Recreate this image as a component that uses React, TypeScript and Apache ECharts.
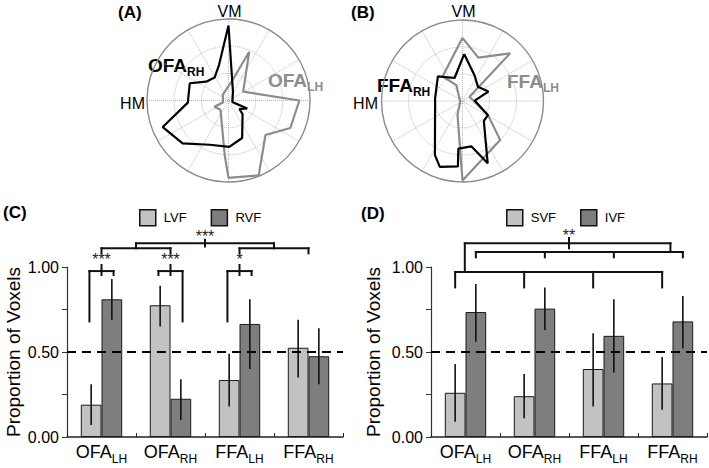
import React, { useEffect, useRef } from 'react';
import * as echarts from 'echarts';

const FONT = "'Liberation Sans', Arial, Helvetica, sans-serif";

// ---------- Panel A / B: polar profiles, [radius (0..1), angle in degrees, 0 = right, counter-clockwise]
const ofaRH = [
  [0.92, 90], [0.45, 105], [0.33, 121], [0.36, 140], [0.52, 156], [0.5, 183], [0.87, 202],
  [0.77, 223], [0.59, 247], [0.57, 271], [0.49, 290], [0.24, 316], [0.17, 322], [0.25, 337],
  [0.05, 340], [0.12, 63], [0.92, 90],
];
const ofaLH = [
  [0.65, 67], [0.21, 31], [0.87, 0], [0.83, 336], [0.62, 317], [0.99, 292], [0.95, 270],
  [0.67, 266], [0.15, 229], [0.19, 204], [0.07, 198], [0.1, 135], [0.23, 81], [0.65, 67],
];
const ffaLH = [
  [0.78, 90], [0.57, 70], [0.83, 45], [0.1, 31], [0.36, 331], [0.67, 314], [0.98, 270],
  [0.18, 250], [0.03, 200], [0.21, 111], [0.39, 129], [0.78, 90],
];
const ffaRH = [
  [0.58, 88], [0.35, 65], [0.26, 43], [0.34, 20], [0.15, 2], [0.36, 331], [0.36, 317],
  [0.83, 292], [0.57, 281], [0.59, 265], [0.81, 266], [0.86, 251], [0.75, 243], [0.34, 174],
  [0.43, 135], [0.3, 109], [0.58, 88],
];

// ---------- Panel C / D: bars
const categories = ['OFA_LH', 'OFA_RH', 'FFA_LH', 'FFA_RH'];
const lvf = [0.19, 0.775, 0.335, 0.525];
const rvf = [0.81, 0.225, 0.665, 0.475];
const lvfErr = [[0.07, 0.31], [0.65, 0.89], [0.18, 0.49], [0.35, 0.69]];
const rvfErr = [[0.69, 0.93], [0.1, 0.34], [0.4, 0.81], [0.31, 0.64]];

const svf = [0.26, 0.24, 0.4, 0.315];
const ivf = [0.735, 0.755, 0.595, 0.68];
const svfErr = [[0.09, 0.43], [0.11, 0.37], [0.18, 0.61], [0.16, 0.47]];
const ivfErr = [[0.56, 0.9], [0.63, 0.88], [0.38, 0.81], [0.52, 0.83]];

const yTickLabels = ['0.00', '0.50', '1.00'];

// significance brackets: y = horizontal bar value, legs = [category position, leg end value]
const bracketsC = [
  { y: 0.976, legs: [[-0.175, 0.68], [0.175, 0.953]], tick: [0, 0.953, 1.012] },
  { y: 0.976, legs: [[0.825, 0.953], [1.175, 0.68]], tick: [1, 0.953, 1.012] },
  { y: 0.976, legs: [[1.825, 0.68], [2.175, 0.953]], tick: [2, 0.953, 1.012] },
  { y: 1.11, legs: [[0, 1.08], [1, 1.08]] },
  { y: 1.11, legs: [[2, 1.08], [3, 1.08]] },
  { y: 1.139, legs: [[0.5, 1.11], [2.5, 1.11]], tick: [1.5, 1.12, 1.16] },
];
const starsC = [
  { x: 0, y: 1.045, text: '***' },
  { x: 1, y: 1.045, text: '***' },
  { x: 2, y: 1.045, text: '*' },
  { x: 1.5, y: 1.18, text: '***' },
];
const bracketsD = [
  { y: 0.971, legs: [[-0.15, 0.88], [0.85, 0.88], [1.85, 0.88], [2.85, 0.88]] },
  { y: 1.088, legs: [[0.15, 1.057], [1.15, 1.057], [2.15, 1.057], [3.15, 1.057]] },
  { y: 1.139, legs: [[-0.01, 0.971], [2.97, 1.088]], tick: [1.5, 1.11, 1.17] },
];
const starsD = [{ x: 1.5, y: 1.185, text: '**' }];

const LIGHT = '#c2c2c2';
const DARK = '#7e7e7e';
const GRAYLINE = '#8c8c8c';

function errRender(errs: number[][], off: number) {
  return (params: any, api: any) => {
    const i = api.value(0);
    const bw = api.size([1, 0])[0];
    const lo = api.coord([i, errs[i][0]]);
    const hi = api.coord([i, errs[i][1]]);
    const x = lo[0] + off * bw;
    return {
      type: 'line',
      shape: { x1: x, y1: lo[1], x2: x, y2: hi[1] },
      style: { stroke: '#111', lineWidth: 1.6 },
    };
  };
}

function bracketRender(brackets: any[]) {
  return (params: any, api: any) => {
    const b = brackets[api.value(2)];
    const x0 = api.coord([0, 0])[0];
    const bw = api.size([1, 0])[0];
    const px = (u: number) => x0 + u * bw;
    const py = (v: number) => api.coord([0, v])[1];
    const xs = b.legs.map((l: number[]) => l[0]);
    const style = { stroke: '#111', lineWidth: 2, lineCap: 'square' };
    const children: any[] = [
      { type: 'line', shape: { x1: px(Math.min(...xs)), y1: py(b.y), x2: px(Math.max(...xs)), y2: py(b.y) }, style },
    ];
    b.legs.forEach((l: number[]) => {
      children.push({ type: 'line', shape: { x1: px(l[0]), y1: py(b.y), x2: px(l[0]), y2: py(l[1]) }, style });
    });
    if (b.tick) {
      children.push({ type: 'line', shape: { x1: px(b.tick[0]), y1: py(b.tick[1]), x2: px(b.tick[0]), y2: py(b.tick[2]) }, style });
    }
    return { type: 'group', children };
  };
}

function starRender(stars: any[]) {
  return (params: any, api: any) => {
    const s = stars[api.value(2)];
    const x0 = api.coord([0, 0])[0];
    const bw = api.size([1, 0])[0];
    return {
      type: 'text',
      x: x0 + s.x * bw,
      y: api.coord([0, s.y])[1],
      style: { text: s.text, align: 'center', verticalAlign: 'middle', fontSize: 16, fontFamily: FONT, fill: '#222' },
    };
  };
}

const xLabelRich = {
  m: { fontSize: 18, fontFamily: FONT, color: '#000', lineHeight: 20, verticalAlign: 'top' },
  s: { fontSize: 12, fontFamily: FONT, color: '#000', lineHeight: 12, padding: [10, 0, 0, 0], verticalAlign: 'top' },
};

function makeXAxis(gridIndex: number) {
  return {
    type: 'category',
    gridIndex,
    data: categories,
    axisLine: { lineStyle: { color: '#222', width: 1.5 } },
    axisTick: { show: true, inside: true, length: 4, lineStyle: { color: '#222' } },
    axisLabel: {
      interval: 0,
      margin: 6,
      formatter: (v: string) => {
        const [m, s] = v.split('_');
        return `{m|${m}}{s|${s}}`;
      },
      rich: xLabelRich,
    },
  };
}

function makeYAxis(gridIndex: number, nameGap: number) {
  return {
    type: 'value',
    gridIndex,
    min: 0,
    max: 1,
    interval: 0.25,
    name: 'Proportion of Voxels',
    nameLocation: 'middle',
    nameGap,
    nameTextStyle: { fontSize: 19, fontFamily: FONT, color: '#000' },
    axisLine: { show: true, lineStyle: { color: '#333', width: 1.2 } },
    axisTick: { show: true, length: 5, lineStyle: { color: '#333' } },
    splitLine: { show: false },
    axisLabel: {
      fontSize: 16,
      fontFamily: FONT,
      color: '#000',
      margin: 8,
      formatter: (v: number) => {
        const s = v.toFixed(2);
        return yTickLabels.includes(s) ? s : '';
      },
    },
  };
}

function barSeries(name: string, data: number[], color: string, gi: number, withLine: boolean) {
  const s: any = {
    name,
    type: 'bar',
    xAxisIndex: gi,
    yAxisIndex: gi,
    data,
    barGap: '0%',
    barCategoryGap: '40%',
    itemStyle: { color, borderColor: '#1a1a1a', borderWidth: 1 },
  };
  if (withLine) {
    s.markLine = {
      silent: true,
      symbol: 'none',
      label: { show: false },
      lineStyle: { color: '#000', type: [9, 6], width: 2 },
      data: [{ yAxis: 0.5 }],
      z: 5,
    };
  }
  return s;
}

function polarLine(data: number[][], color: string, pi: number) {
  return {
    type: 'line',
    coordinateSystem: 'polar',
    polarIndex: pi,
    data,
    symbol: 'none',
    smooth: false,
    lineStyle: { color, width: 2.2 },
    z: 3,
  };
}

function customSeries(gi: number, n: number, render: any, z: number) {
  return {
    type: 'custom',
    xAxisIndex: gi,
    yAxisIndex: gi,
    renderItem: render,
    data: Array.from({ length: n }, (_, i) => [0, 0, i]),
    encode: { x: 0, y: 1 },
    z,
    silent: true,
  };
}

function errSeries(gi: number, errs: number[][], off: number) {
  return {
    type: 'custom',
    xAxisIndex: gi,
    yAxisIndex: gi,
    renderItem: errRender(errs, off),
    data: errs.map((e, i) => [i, e[0], e[1]]),
    encode: { x: 0, y: [1, 2] },
    z: 4,
    silent: true,
  };
}

function radarLabel(x: number, y: number, main: string, sub: string, color: string) {
  return {
    type: 'text',
    x,
    y,
    style: {
      text: `{m|${main}}{s|${sub}}`,
      rich: {
        m: { fontSize: 19, fontWeight: 'bold', fontFamily: FONT, fill: color, color, lineHeight: 20, verticalAlign: 'top' },
        s: { fontSize: 12, fontWeight: 'bold', fontFamily: FONT, fill: color, color, lineHeight: 12, padding: [10, 0, 0, 0], verticalAlign: 'top' },
      },
    },
  };
}

function plainText(x: number, y: number, text: string, size: number, bold: boolean, align: string) {
  return {
    type: 'text',
    x,
    y,
    style: {
      text,
      fontSize: size,
      fontWeight: bold ? 'bold' : 'normal',
      fontFamily: FONT,
      fill: '#000',
      align,
      verticalAlign: 'middle',
    },
  };
}

export default function App() {
  const ref = useRef<HTMLDivElement>(null);
  useEffect(() => {
    if (!ref.current) return;
    const chart = echarts.init(ref.current, undefined, { renderer: 'svg' });
    const angleAx = (pi: number) => ({
      polarIndex: pi,
      type: 'value',
      min: 0,
      max: 360,
      interval: 30,
      startAngle: 0,
      clockwise: false,
      axisLine: { show: true, lineStyle: { color: '#8a8a8a', width: 1.3 } },
      axisTick: { show: false },
      axisLabel: { show: false },
      splitLine: { show: true, lineStyle: { color: '#b8b8b8', type: 'dotted', width: 1 } },
    });
    const radiusAx = (pi: number) => ({
      polarIndex: pi,
      type: 'value',
      min: 0,
      max: 1,
      interval: 1 / 3,
      axisLine: { show: false },
      axisTick: { show: false },
      axisLabel: { show: false },
      splitLine: { show: true, lineStyle: { color: '#b8b8b8', type: 'dotted', width: 1 } },
    });
    const legendBase = {
      itemWidth: 16,
      itemHeight: 16,
      itemGap: 24,
      padding: 0,
      icon: 'rect',
      textStyle: { fontSize: 13, fontFamily: FONT, color: '#000', padding: [0, 0, 0, 3] },
      itemStyle: { borderColor: '#111', borderWidth: 1.5 },
      selectedMode: false,
    };
    chart.setOption({
      animation: false,
      backgroundColor: '#fff',
      polar: [
        { center: [228.5, 100.5], radius: 81.5 },
        { center: [462.5, 101], radius: 81 },
      ],
      angleAxis: [angleAx(0), angleAx(1)],
      radiusAxis: [radiusAx(0), radiusAx(1)],
      grid: [
        { left: 67, top: 267, width: 276, height: 170 },
        { left: 431, top: 267, width: 276, height: 170 },
      ],
      xAxis: [makeXAxis(0), makeXAxis(1)],
      yAxis: [makeYAxis(0, 44), makeYAxis(1, 48)],
      legend: [
        { ...legendBase, data: ['LVF', 'RVF'], left: 139, top: 209 },
        { ...legendBase, data: ['SVF', 'IVF'], left: 506, top: 209 },
      ],
      series: [
        polarLine(ofaLH, GRAYLINE, 0),
        polarLine(ofaRH, '#000', 0),
        polarLine(ffaLH, GRAYLINE, 1),
        polarLine(ffaRH, '#000', 1),
        barSeries('LVF', lvf, LIGHT, 0, true),
        barSeries('RVF', rvf, DARK, 0, false),
        barSeries('SVF', svf, LIGHT, 1, true),
        barSeries('IVF', ivf, DARK, 1, false),
        errSeries(0, lvfErr, -0.15),
        errSeries(0, rvfErr, 0.15),
        errSeries(1, svfErr, -0.15),
        errSeries(1, ivfErr, 0.15),
        customSeries(0, bracketsC.length, bracketRender(bracketsC), 6),
        customSeries(0, starsC.length, starRender(starsC), 6),
        customSeries(1, bracketsD.length, bracketRender(bracketsD), 6),
        customSeries(1, starsD.length, starRender(starsD), 6),
      ],
      graphic: [
        plainText(118, 12, '(A)', 17, true, 'left'),
        plainText(351, 12, '(B)', 17, true, 'left'),
        plainText(3, 212, '(C)', 17, true, 'left'),
        plainText(361, 213, '(D)', 17, true, 'left'),
        plainText(229.5, 11, 'VM', 16, false, 'center'),
        plainText(145, 103, 'HM', 16, false, 'right'),
        plainText(463.5, 11, 'VM', 16, false, 'center'),
        plainText(378, 103, 'HM', 16, false, 'right'),
        radarLabel(148, 56, 'OFA', 'RH', '#000'),
        radarLabel(268, 71, 'OFA', 'LH', GRAYLINE),
        radarLabel(377, 76, 'FFA', 'RH', '#000'),
        radarLabel(507, 72, 'FFA', 'LH', GRAYLINE),
      ],
    });
    return () => chart.dispose();
  }, []);
  return <div ref={ref} style={{ position: 'absolute', left: 0, top: 0, width: 709, height: 468 }} />;
}
